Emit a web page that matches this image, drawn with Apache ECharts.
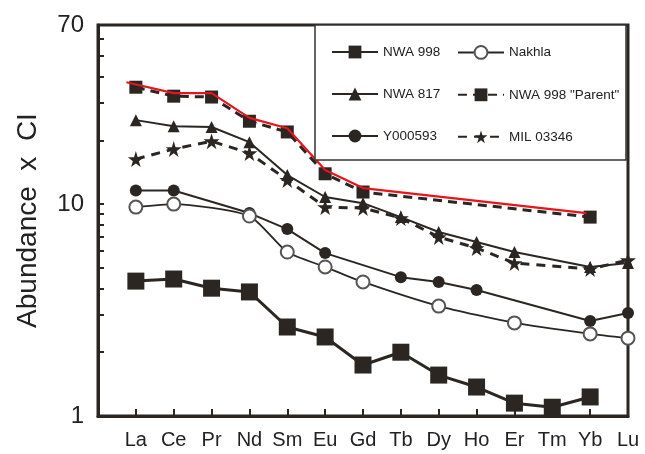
<!DOCTYPE html>
<html>
<head>
<meta charset="utf-8">
<script src="https://cdn.jsdelivr.net/npm/echarts@6/dist/echarts.min.js"></script>
<style>
  html, body { margin: 0; padding: 0; background: #fff; }
  #main { width: 645px; height: 454px; }
</style>
</head>
<body>
<div id="main"></div>
<script>
// REE abundances, chondrite normalised (null = not measured)
var elements = ['La', 'Ce', 'Pr', 'Nd', 'Sm', 'Eu', 'Gd', 'Tb', 'Dy', 'Ho', 'Er', 'Tm', 'Yb', 'Lu'];
var nwa998   = [4.33, 4.43, 4.01, 3.85, 2.63, 2.36, 1.74, 2.00, 1.56, 1.37, 1.15, 1.10, 1.23, null];
var nwa817   = [24.9, 23.3, 23.1, 19.6, 13.7, 10.8, 10.1, 8.68, 7.38, 6.62, 5.94, null, 5.05, 5.27];
var y000593  = [11.6, 11.6, null, 9.07, 7.62, 5.87, null, 4.52, 4.29, 3.93, null, null, 2.81, 3.06];
var nakhla   = [9.68, 10.0, null, 8.78, 5.94, 5.05, 4.29, null, 3.30, null, 2.75, null, 2.44, 2.33];
var parent   = [35.6, 32.3, 32.0, 24.6, 21.9, 13.9, 11.4, null, null, null, null, null, 8.68, null];
var mil03346 = [16.3, 18.2, 19.8, 17.4, 13.0, 9.68, 9.58, 8.59, 6.99, 6.20, 5.27, null, 4.94, 5.44];
// hand drawn red trace over the parent curve
var redX = [-0.25, 1, 2, 3, 4, 5, 6, 11.9];
var redY = [37.6, 33.4, 33.4, 25.5, 22.8, 14.5, 11.9, 9.07];

var yLabels = [1, 10, 70];
var yTicks = [1, 2, 3, 4, 5, 6, 7, 8, 9, 10, 20, 30, 40, 50, 60, 70];

var ink = '#2b2622';
var star = 'path://M50,0 L61,35 L98,35 L68,57 L79,91 L50,70 L21,91 L32,57 L2,35 L39,35 Z';

function pairs(arr) {
    var out = [];
    arr.forEach(function(v, i) {
        if (v != null) out.push([i, v]);
    });
    return out;
}

var legendText = {fontFamily: 'Liberation Sans', fontSize: 13.5, color: '#222'};

var chart = echarts.init(document.getElementById('main'));
chart.setOption({
    animation: false,
    backgroundColor: '#fff',
    grid: {
        left: 98, right: 17, top: 25, bottom: 38,
        show: true, borderColor: ink, borderWidth: 3
    },
    graphic: [{
        type: 'rect',
        z: 5,
        shape: {x: 315, y: 25, width: 311, height: 135},
        style: {fill: '#fff', stroke: '#333', lineWidth: 1.5}
    }],
    legend: [
        {
            data: ['NWA 998', 'NWA 817', 'Y000593'],
            orient: 'vertical', left: 326, top: 40,
            itemWidth: 46, itemHeight: 16, itemGap: 28, z: 10,
            textStyle: legendText
        },
        {
            data: ['Nakhla', 'NWA 998 "Parent"', 'MIL 03346'],
            orient: 'vertical', left: 452, top: 40,
            itemWidth: 46, itemHeight: 16, itemGap: 28, z: 10,
            textStyle: legendText
        }
    ],
    xAxis: {
        type: 'value',
        min: -1, max: 13, interval: 1,
        axisLine: {onZero: false, lineStyle: {color: ink, width: 3}},
        axisTick: {inside: true, length: 7, lineStyle: {color: ink, width: 2}},
        axisLabel: {
            margin: 14,
            fontFamily: 'Liberation Sans', fontSize: 20, color: '#222',
            formatter: function(v) { return elements[v] || ''; }
        },
        splitLine: {show: false}
    },
    yAxis: {
        type: 'log',
        min: 1, max: 70,
        name: 'Abundance  x  CI',
        nameLocation: 'middle',
        nameGap: 56,
        nameTextStyle: {fontFamily: 'Liberation Sans', fontSize: 28, color: '#222'},
        axisLine: {onZero: false, lineStyle: {color: ink, width: 3}},
        axisTick: {inside: true, length: 6, customValues: yTicks, lineStyle: {color: ink, width: 2}},
        axisLabel: {
            margin: 14, customValues: yLabels,
            fontFamily: 'Liberation Sans', fontSize: 24, color: '#222'
        },
        splitLine: {show: false},
        minorTick: {show: false}
    },
    series: [
        {
            name: 'NWA 998', type: 'line', data: pairs(nwa998),
            symbol: 'rect', symbolSize: 17,
            itemStyle: {color: ink},
            lineStyle: {color: ink, width: 3}
        },
        {
            name: 'NWA 817', type: 'line', data: pairs(nwa817),
            symbol: 'triangle', symbolSize: 12,
            itemStyle: {color: ink},
            lineStyle: {color: ink, width: 2}
        },
        {
            name: 'Y000593', type: 'line', data: pairs(y000593),
            symbol: 'circle', symbolSize: 12,
            itemStyle: {color: ink},
            lineStyle: {color: ink, width: 2}
        },
        {
            name: 'Nakhla', type: 'line', data: pairs(nakhla),
            symbol: 'emptyCircle', symbolSize: 13, smooth: 0.2,
            itemStyle: {color: '#555', borderWidth: 1.2},
            lineStyle: {color: ink, width: 1.8}
        },
        {
            name: 'NWA 998 "Parent"', type: 'line', data: pairs(parent),
            symbol: 'rect', symbolSize: 13,
            itemStyle: {color: ink},
            lineStyle: {color: ink, width: 3, type: [9, 6]}
        },
        {
            name: 'MIL 03346', type: 'line', data: pairs(mil03346),
            symbol: star, symbolSize: 16,
            itemStyle: {color: ink},
            lineStyle: {color: ink, width: 3, type: [9, 7]}
        },
        {
            name: 'red', type: 'line', z: 4,
            data: redX.map(function(x, i) { return [x, redY[i]]; }),
            showSymbol: false,
            lineStyle: {color: '#e8141c', width: 2.2}
        }
    ]
});
</script>
</body>
</html>
